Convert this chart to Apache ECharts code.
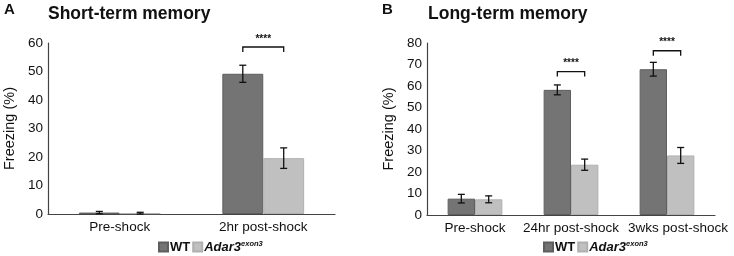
<!DOCTYPE html>
<html>
<head>
<meta charset="utf-8">
<script src="https://cdn.jsdelivr.net/npm/echarts@6/dist/echarts.min.js"></script>
<style>
  html, body { margin: 0; padding: 0; background: #fff; }
  #main { width: 734px; height: 256px; }
</style>
</head>
<body>
<div id="main"></div>
<script>
// panel A - short-term memory
var catsA = ['Pre-shock', '2hr post-shock'];
var wtA = [0.5, 49.2];
var wtErrA = [0.4, 3.0];
var adarA = [0.3, 19.6];
var adarErrA = [0.3, 3.6];
var sigCatA = [1];
var sigLevelA = [58.6];

// panel B - long-term memory
var catsB = ['Pre-shock', '24hr post-shock', '3wks post-shock'];
var wtB = [7.6, 58.2, 67.8];
var wtErrB = [2.0, 2.3, 3.2];
var adarB = [7.3, 23.4, 27.7];
var adarErrB = [1.6, 2.6, 3.7];
var sigCatB = [1, 2];
var sigLevelB = [66.7, 76.4];

var GAP = 0.43; // barCategoryGap
var WT_COLOR = '#747474';
var ADAR_COLOR = '#c0c0c0';
var FONT = 'Liberation Sans';

var chart = echarts.init(document.getElementById('main'));

function errData(means, errs, side) {
    var out = [];
    for (var i = 0; i < means.length; i++) {
        out.push([i, means[i], errs[i], side]);
    }
    return out;
}

function renderErr(params, api) {
    var c = api.coord([api.value(0), api.value(1)]);
    var band = api.size([1, 0])[0];
    var bw = band * (1 - GAP) / 2;
    var x = c[0] + api.value(3) * bw / 2;
    var top = api.coord([api.value(0), api.value(1) + api.value(2)])[1];
    var bot = api.coord([api.value(0), api.value(1) - api.value(2)])[1];
    var cap = 3.5;
    var st = { stroke: '#111', lineWidth: 1.3 };
    return {
        type: 'group',
        children: [
            { type: 'line', shape: { x1: x, y1: top, x2: x, y2: bot }, style: st },
            { type: 'line', shape: { x1: x - cap, y1: top, x2: x + cap, y2: top }, style: st },
            { type: 'line', shape: { x1: x - cap, y1: bot, x2: x + cap, y2: bot }, style: st }
        ]
    };
}

function sigData(cats, levels) {
    var out = [];
    for (var i = 0; i < cats.length; i++) out.push([cats[i], levels[i]]);
    return out;
}

function renderSig(params, api) {
    var c = api.coord([api.value(0), api.value(1)]);
    var band = api.size([1, 0])[0];
    var bw = band * (1 - GAP) / 2;
    var x1 = c[0] - bw / 2, x2 = c[0] + bw / 2;
    var y = c[1];
    var st = { stroke: '#111', lineWidth: 1.3, fill: null };
    return {
        type: 'group',
        children: [
            { type: 'polyline', shape: { points: [[x1, y + 5], [x1, y], [x2, y], [x2, y + 5]] }, style: st },
            { type: 'text', x: c[0], y: y - 3, style: { text: '****', textAlign: 'center', textVerticalAlign: 'bottom', fontSize: 10, fontWeight: 'bold', fill: '#111', fontFamily: FONT } }
        ]
    };
}

// last label of panel B sits a bit right of its category, as in the original
var catsBItems = catsB.map(function (c, i) {
    return i === catsB.length - 1 ? { value: c, textStyle: { padding: [0, 0, 0, 22] } } : c;
});

var axisLine = { show: true, lineStyle: { color: '#444', width: 1.2 } };
var xLabel = { color: '#111', fontSize: 13.5, fontFamily: FONT, margin: 6, interval: 0 };
var yLabel = { color: '#111', fontSize: 13.5, fontFamily: FONT, margin: 5 };
var nameStyle = { fontSize: 14.5, color: '#111', fontFamily: FONT };

var legendRich = {
    wt: { fontWeight: 'bold', fontSize: 13, color: '#111', fontFamily: FONT },
    ad: { fontWeight: 'bold', fontStyle: 'italic', fontSize: 13, color: '#111', fontFamily: FONT },
    sup: { fontWeight: 'bold', fontStyle: 'italic', fontSize: 7.5, color: '#111', fontFamily: FONT, verticalAlign: 'top', padding: [0, 0, 6, 0] }
};
function legendFmt(name) {
    return name === 'WT' ? '{wt|WT}' : '{ad|Adar3}{sup|exon3}';
}

var option = {
    animation: false,
    title: [
        { text: 'A', left: 4, top: 2, padding: 0, textStyle: { fontSize: 15, fontWeight: 'bold', color: '#111', fontFamily: FONT } },
        { text: 'Short-term memory', left: 48, top: 5, padding: 0, textStyle: { fontSize: 17.5, fontWeight: 'bold', color: '#111', fontFamily: FONT } },
        { text: 'B', left: 382, top: 2, padding: 0, textStyle: { fontSize: 15, fontWeight: 'bold', color: '#111', fontFamily: FONT } },
        { text: 'Long-term memory', left: 428, top: 5, padding: 0, textStyle: { fontSize: 17.5, fontWeight: 'bold', color: '#111', fontFamily: FONT } }
    ],
    legend: [
        { data: ['WT', 'Adar3'], left: 153, top: 235, itemWidth: 9, itemHeight: 9, itemGap: 2, icon: 'rect', formatter: legendFmt, textStyle: { rich: legendRich, padding: [0, 0, 0, -3] } },
        { data: ['WT', 'Adar3'], left: 538, top: 235, itemWidth: 9, itemHeight: 9, itemGap: 2, icon: 'rect', formatter: legendFmt, textStyle: { rich: legendRich, padding: [0, 0, 0, -3] } }
    ],
    grid: [
        { left: 48, right: 399, top: 43, bottom: 42 },
        { left: 427, right: 19, top: 43, bottom: 41 }
    ],
    xAxis: [
        { type: 'category', gridIndex: 0, data: catsA, axisLine: axisLine, axisTick: { show: false }, axisLabel: xLabel },
        { type: 'category', gridIndex: 1, data: catsBItems, axisLine: axisLine, axisTick: { show: false }, axisLabel: xLabel }
    ],
    yAxis: [
        { type: 'value', gridIndex: 0, min: 0, max: 60, interval: 10, axisLine: axisLine, axisTick: { show: false }, splitLine: { show: false },
          axisLabel: yLabel, name: 'Freezing (%)', nameLocation: 'middle', nameGap: 31, nameTextStyle: nameStyle },
        { type: 'value', gridIndex: 1, min: 0, max: 80, interval: 10, axisLine: axisLine, axisTick: { show: false }, splitLine: { show: false },
          axisLabel: yLabel, name: 'Freezing (%)', nameLocation: 'middle', nameGap: 31, nameTextStyle: nameStyle }
    ],
    series: [
        { name: 'WT', type: 'bar', xAxisIndex: 0, yAxisIndex: 0, data: wtA, barGap: '0%', barCategoryGap: (GAP * 100) + '%',
          itemStyle: { color: WT_COLOR, borderColor: '#5e5e5e', borderWidth: 1 } },
        { name: 'Adar3', type: 'bar', xAxisIndex: 0, yAxisIndex: 0, data: adarA, barGap: '0%', barCategoryGap: (GAP * 100) + '%',
          itemStyle: { color: ADAR_COLOR, borderColor: '#b0b0b0', borderWidth: 1 } },
        { name: 'WT', type: 'bar', xAxisIndex: 1, yAxisIndex: 1, data: wtB, barGap: '0%', barCategoryGap: (GAP * 100) + '%',
          itemStyle: { color: WT_COLOR, borderColor: '#5e5e5e', borderWidth: 1 } },
        { name: 'Adar3', type: 'bar', xAxisIndex: 1, yAxisIndex: 1, data: adarB, barGap: '0%', barCategoryGap: (GAP * 100) + '%',
          itemStyle: { color: ADAR_COLOR, borderColor: '#b0b0b0', borderWidth: 1 } },
        { type: 'custom', xAxisIndex: 0, yAxisIndex: 0, renderItem: renderErr, data: errData(wtA, wtErrA, -1), z: 10 },
        { type: 'custom', xAxisIndex: 0, yAxisIndex: 0, renderItem: renderErr, data: errData(adarA, adarErrA, 1), z: 10 },
        { type: 'custom', xAxisIndex: 1, yAxisIndex: 1, renderItem: renderErr, data: errData(wtB, wtErrB, -1), z: 10 },
        { type: 'custom', xAxisIndex: 1, yAxisIndex: 1, renderItem: renderErr, data: errData(adarB, adarErrB, 1), z: 10 },
        { type: 'custom', xAxisIndex: 0, yAxisIndex: 0, renderItem: renderSig, data: sigData(sigCatA, sigLevelA), z: 10 },
        { type: 'custom', xAxisIndex: 1, yAxisIndex: 1, renderItem: renderSig, data: sigData(sigCatB, sigLevelB), z: 10 }
    ]
};

chart.setOption(option);
</script>
</body>
</html>
